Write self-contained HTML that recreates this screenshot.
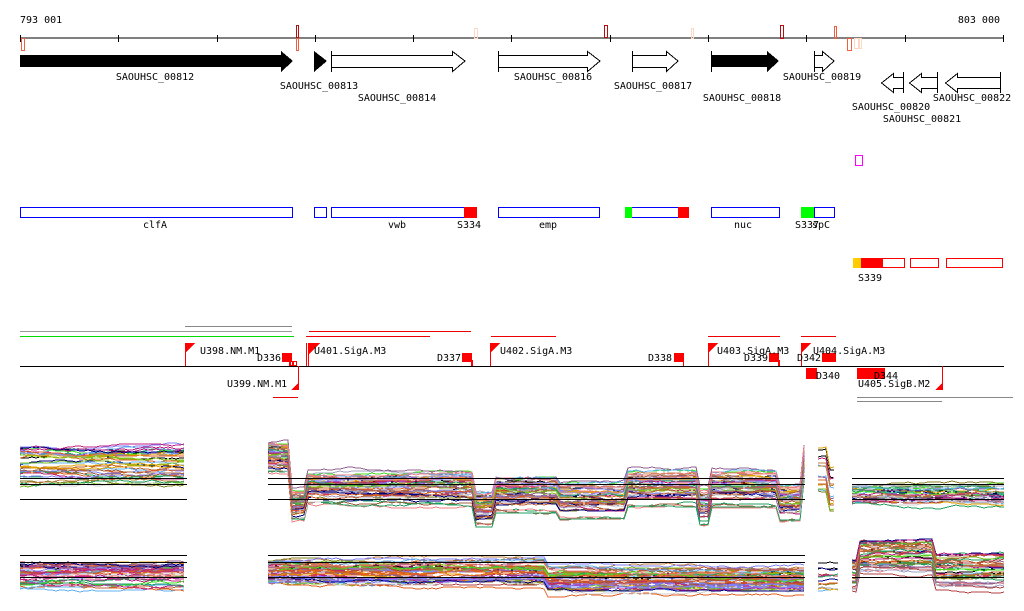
<!DOCTYPE html>
<html><head><meta charset="utf-8"><style>
html,body{margin:0;padding:0;background:#fff;width:1024px;height:611px;overflow:hidden}
text{font-family:"DejaVu Sans Mono","Liberation Mono",monospace;font-size:10px;fill:#000}
</style></head><body>
<svg id="s" width="1024" height="611" xmlns="http://www.w3.org/2000/svg" shape-rendering="crispEdges">
<text x="20" y="23">793 001</text>
<text x="1000" y="23" text-anchor="end">803 000</text>
<line x1="20" y1="38" x2="1004" y2="38" stroke="#000"/>
<g stroke="#000">
<line x1="20.5" y1="35" x2="20.5" y2="42"/><line x1="118.5" y1="35" x2="118.5" y2="42"/><line x1="217.5" y1="35" x2="217.5" y2="42"/><line x1="315.5" y1="35" x2="315.5" y2="42"/><line x1="413.5" y1="35" x2="413.5" y2="42"/><line x1="511.5" y1="35" x2="511.5" y2="42"/><line x1="610.5" y1="35" x2="610.5" y2="42"/><line x1="708.5" y1="35" x2="708.5" y2="42"/><line x1="806.5" y1="35" x2="806.5" y2="42"/><line x1="905.5" y1="35" x2="905.5" y2="42"/><line x1="1003.5" y1="35" x2="1003.5" y2="42"/>
</g>
<g fill="none">
<rect x="21.5" y="38.5" width="3" height="12" stroke="#f06040"/>
<rect x="296.5" y="25.5" width="2" height="12" stroke="#b01010"/>
<rect x="296.5" y="38.5" width="2" height="12" stroke="#f06040"/>
<rect x="474.5" y="28.5" width="3" height="10" stroke="#fbd8c8"/>
<rect x="604.5" y="25.5" width="3" height="12" stroke="#b01010"/>
<rect x="691.5" y="28.5" width="2" height="10" stroke="#fbd8c8"/>
<rect x="780.5" y="25.5" width="3" height="13" stroke="#b01010"/>
<rect x="834.5" y="26.5" width="2" height="12" stroke="#f06040"/>
<rect x="847.5" y="38.5" width="4" height="12" stroke="#f06040"/>
<rect x="854.5" y="38.5" width="4" height="10" stroke="#fbd8c8"/>
<rect x="859.5" y="38.5" width="2" height="10" stroke="#fbd8c8"/>
</g>
<polygon points="20,55 281,55 281,51 293,61 281,72 281,67 20,67" fill="#000"/>
<polygon points="314,51 327,61 314,72" fill="#000"/>
<polygon points="331.5,55.5 452.5,55.5 452.5,51.5 465,61 452.5,71.5 452.5,67.5 331.5,67.5" fill="#fff" stroke="#000"/>
<line x1="331.5" y1="51" x2="331.5" y2="72" stroke="#000"/>
<polygon points="498.5,55.5 587.5,55.5 587.5,51.5 600,61 587.5,71.5 587.5,67.5 498.5,67.5" fill="#fff" stroke="#000"/>
<line x1="498.5" y1="51" x2="498.5" y2="72" stroke="#000"/>
<polygon points="632.5,55.5 666.5,55.5 666.5,51.5 678,61 666.5,71.5 666.5,67.5 632.5,67.5" fill="#fff" stroke="#000"/>
<line x1="632.5" y1="51" x2="632.5" y2="72" stroke="#000"/>
<polygon points="711,55 767,55 767,51 779,61 767,72 767,67 711,67" fill="#000"/>
<line x1="711.5" y1="51" x2="711.5" y2="72" stroke="#000"/>
<polygon points="814.5,55.5 822.5,55.5 822.5,51.5 834,61 822.5,71.5 822.5,67.5 814.5,67.5" fill="#fff" stroke="#000"/>
<line x1="814.5" y1="51" x2="814.5" y2="72" stroke="#000"/>
<polygon points="903.5,77.5 893.5,77.5 893.5,73.5 881.5,83 893.5,92.5 893.5,88.5 903.5,88.5" fill="#fff" stroke="#000"/>
<line x1="903.5" y1="72" x2="903.5" y2="93" stroke="#000"/>
<polygon points="937.5,77.5 921.5,77.5 921.5,73.5 909.5,83 921.5,92.5 921.5,88.5 937.5,88.5" fill="#fff" stroke="#000"/>
<line x1="937.5" y1="72" x2="937.5" y2="93" stroke="#000"/>
<polygon points="1000.5,77.5 957.5,77.5 957.5,73.5 945.5,83 957.5,92.5 957.5,88.5 1000.5,88.5" fill="#fff" stroke="#000"/>
<line x1="1000.5" y1="72" x2="1000.5" y2="93" stroke="#000"/>
<text x="155" y="80" text-anchor="middle">SAOUHSC_00812</text>
<text x="319" y="89" text-anchor="middle">SAOUHSC_00813</text>
<text x="397" y="101" text-anchor="middle">SAOUHSC_00814</text>
<text x="553" y="80" text-anchor="middle">SAOUHSC_00816</text>
<text x="653" y="89" text-anchor="middle">SAOUHSC_00817</text>
<text x="742" y="101" text-anchor="middle">SAOUHSC_00818</text>
<text x="822" y="80" text-anchor="middle">SAOUHSC_00819</text>
<text x="891" y="110" text-anchor="middle">SAOUHSC_00820</text>
<text x="922" y="122" text-anchor="middle">SAOUHSC_00821</text>
<text x="972" y="101" text-anchor="middle">SAOUHSC_00822</text>
<rect x="855.5" y="155.5" width="7" height="10" fill="none" stroke="#f0f"/>
<g fill="none" stroke="#00f">
<rect x="20.5" y="207.5" width="272" height="10"/>
<rect x="314.5" y="207.5" width="12" height="10"/>
<rect x="331.5" y="207.5" width="144" height="10"/>
<rect x="498.5" y="207.5" width="101" height="10"/>
<rect x="631.5" y="207.5" width="48" height="10"/>
<rect x="711.5" y="207.5" width="68" height="10"/>
<rect x="814.5" y="207.5" width="20" height="10"/>
</g>
<rect x="464" y="207" width="13" height="11" fill="#f00"/>
<rect x="625" y="207" width="7" height="11" fill="#0f0"/>
<rect x="678" y="207" width="11" height="11" fill="#f00"/>
<rect x="801" y="207" width="13" height="11" fill="#0f0"/>
<text x="155" y="228" text-anchor="middle">clfA</text>
<text x="397" y="228" text-anchor="middle">vwb</text>
<text x="469" y="228" text-anchor="middle">S334</text>
<text x="548" y="228" text-anchor="middle">emp</text>
<text x="743" y="228" text-anchor="middle">nuc</text>
<text x="795" y="228">S337</text><text x="812" y="228">spC</text>
<g fill="none" stroke="#f00">
<rect x="853.5" y="258.5" width="51" height="9"/>
<rect x="910.5" y="258.5" width="28" height="9"/>
<rect x="946.5" y="258.5" width="56" height="9"/>
</g>
<rect x="853" y="258" width="8" height="10" fill="#fc0"/>
<rect x="861" y="258" width="22" height="10" fill="#f00"/>
<text x="858" y="281">S339</text>
<g stroke-width="1">
<line x1="20" y1="331.5" x2="292" y2="331.5" stroke="#999"/>
<line x1="20" y1="336.5" x2="294" y2="336.5" stroke="#0d0"/>
<line x1="185" y1="326.5" x2="292" y2="326.5" stroke="#888"/>
<line x1="309" y1="331.5" x2="471" y2="331.5" stroke="#e00"/>
<line x1="306" y1="336.5" x2="430" y2="336.5" stroke="#e00"/>
<line x1="491" y1="336.5" x2="556" y2="336.5" stroke="#e00"/>
<line x1="708" y1="336.5" x2="780" y2="336.5" stroke="#e00"/>
<line x1="801" y1="336.5" x2="836" y2="336.5" stroke="#e00"/>
<line x1="273" y1="397.5" x2="298" y2="397.5" stroke="#e00"/>
<line x1="857" y1="397.5" x2="1013" y2="397.5" stroke="#888"/>
<line x1="857" y1="401.5" x2="942" y2="401.5" stroke="#888"/>
</g>
<line x1="20" y1="366.5" x2="1004" y2="366.5" stroke="#000"/>
<g fill="#f00">
<rect x="185" y="343" width="1" height="23"/><polygon points="186,343 195,343 186,352"/>
<rect x="306" y="343" width="1" height="23"/><rect x="308" y="343" width="1" height="23"/><polygon points="308,343 320,343 308,355"/>
<rect x="490" y="343" width="1" height="23"/><polygon points="491,343 500,343 491,352"/>
<rect x="708" y="343" width="1" height="23"/><polygon points="709,343 718,343 709,352"/>
<rect x="801" y="343" width="1" height="23"/><polygon points="802,343 811,343 802,352"/>
<rect x="282" y="353" width="10" height="9"/><rect x="290" y="360" width="1" height="6"/>
<rect x="462" y="353" width="10" height="9"/><rect x="471" y="360" width="2" height="6"/>
<rect x="674" y="353" width="10" height="9"/><rect x="683" y="360" width="1" height="6"/>
<rect x="769" y="353" width="10" height="9"/><rect x="778" y="360" width="2" height="6"/>
<rect x="822" y="353" width="14" height="9"/>
<rect x="806" y="368" width="11" height="11"/>
<rect x="857" y="368" width="28" height="11"/>
<rect x="298" y="366" width="1" height="24"/><polygon points="298,390 298,383 291,390"/>
<rect x="942" y="366" width="1" height="24"/><polygon points="942,390 942,383 935,390"/>
</g>
<g fill="none" stroke="#f00"><rect x="289.5" y="361.5" width="3" height="4"/><rect x="293.5" y="361.5" width="3" height="4"/></g>
<text x="200" y="354">U398.NM.M1</text>
<text x="257" y="361">D336</text>
<text x="227" y="387">U399.NM.M1</text>
<text x="314" y="354">U401.SigA.M3</text>
<text x="437" y="361">D337</text>
<text x="500" y="354">U402.SigA.M3</text>
<text x="648" y="361">D338</text>
<text x="717" y="354">U403.SigA.M3</text>
<text x="744" y="361">D339</text>
<text x="797" y="361">D342</text>
<text x="813" y="354">U404.SigA.M3</text>
<text x="816" y="379">D340</text>
<text x="874" y="379">D344</text>
<text x="858" y="387">U405.SigB.M2</text>
<g id="plots" fill="none" stroke-width="1"></g>
<g stroke="#000" stroke-width="1.2">
<line x1="20" y1="478.5" x2="187" y2="478.5"/><line x1="20" y1="484.5" x2="187" y2="484.5"/><line x1="20" y1="499.5" x2="187" y2="499.5"/>
<line x1="268" y1="478.5" x2="805" y2="478.5"/><line x1="268" y1="484.5" x2="805" y2="484.5"/><line x1="268" y1="499.5" x2="805" y2="499.5"/>
<line x1="852" y1="478.5" x2="1004" y2="478.5"/><line x1="852" y1="484.5" x2="1004" y2="484.5"/><line x1="852" y1="499.5" x2="1004" y2="499.5"/>
<line x1="20" y1="555.5" x2="187" y2="555.5"/><line x1="20" y1="562.5" x2="187" y2="562.5"/><line x1="20" y1="577.5" x2="187" y2="577.5"/>
<line x1="268" y1="555.5" x2="805" y2="555.5"/><line x1="268" y1="562.5" x2="805" y2="562.5"/><line x1="268" y1="577.5" x2="805" y2="577.5"/>
<line x1="852" y1="577.5" x2="1004" y2="577.5"/>
</g>
</svg>
<script>
(function(){
var seed=7;function r(){seed=(seed*16807)%2147483647;return seed/2147483647;}
var cols=["#e06020","#a0a0c0","#80c020","#c02080","#60b0f0","#a06040","#808020","#40e020","#f08080","#c08040","#8080ff","#000080","#d0d0d0","#b04040","#20a060","#e0a000","#906090","#c06030"];
var g=document.getElementById('plots');var ns="http://www.w3.org/2000/svg";
function seg(x0,x1,prof,n,spread){
 for(var i=0;i<n;i++){
  var u=r(); var off=(u-0.5)*2*spread, d="", y=0, drift=0;
  for(var x=x0;x<=x1;x+=4){
   drift+=(r()-0.5)*2; if(drift>6)drift=6; if(drift<-6)drift=-6;
   y=prof(x,u)+off+drift;
   d+=(x==x0?"M":"L")+x+","+Math.round(y);
  }
  var p=document.createElementNS(ns,"path");p.setAttribute("d",d);
  p.setAttribute("stroke",i<2?"#000":cols[Math.floor(r()*cols.length)]);g.appendChild(p);
 }
}
function pB(x,u){if(x<292)return 458;if(x<306)return 505;if(x<476)return 488;if(x<495)return 508;if(x<560)return 494;if(x<625)return 500;if(x<700)return 488;if(x<710)return 506;if(x<780)return 488;if(x<803)return 502;return 462;}
seg(20,187,function(x){return 467;},40,20);
seg(268,805,pB,50,15);
seg(818,835,function(x){return x<830?470:490;},15,22);
seg(852,1004,function(x){return 495;},35,9);
seg(20,187,function(x){return 576;},40,14);
seg(268,805,function(x){if(x<330)return 572;if(x<545)return 573;return 580;},50,12);
seg(818,840,function(x){return 575;},12,16);
seg(852,1004,function(x){if(x<858)return 575;return x<936?557:572;},40,15);
})();
</script>
</body></html>
